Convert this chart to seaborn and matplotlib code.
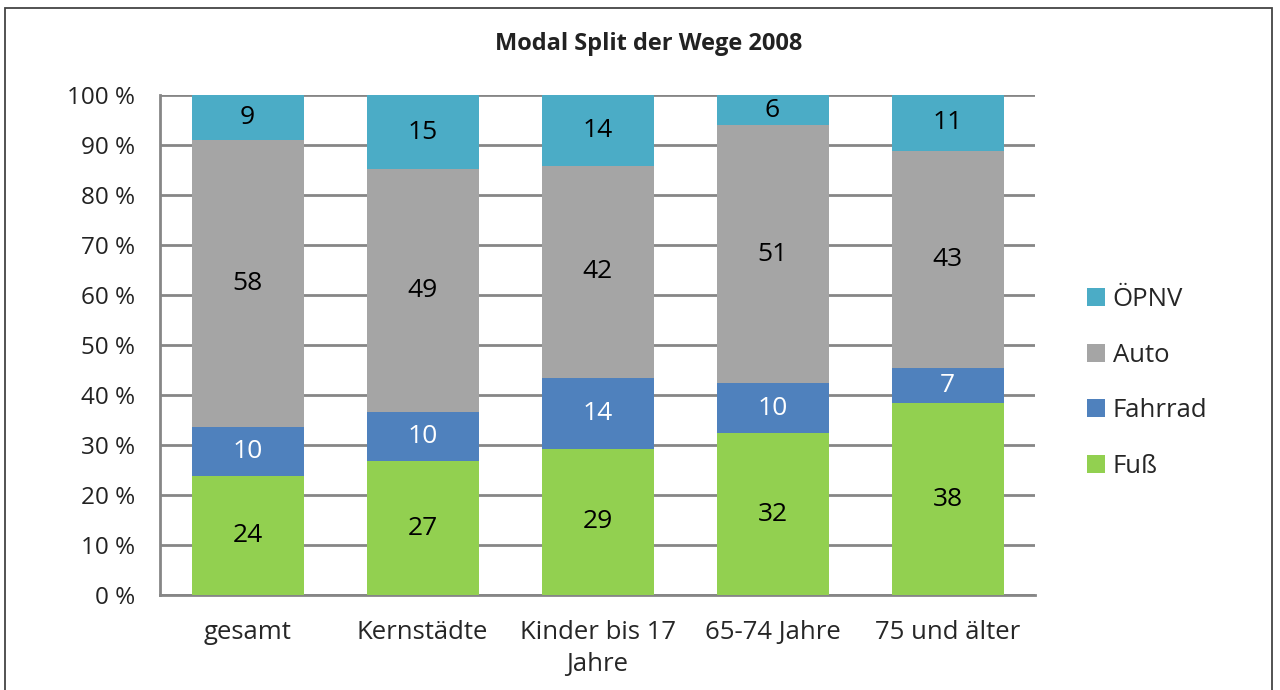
import numpy as np
import pandas as pd
import matplotlib
matplotlib.use("Agg")
import matplotlib.pyplot as plt
from matplotlib.patches import Rectangle
import seaborn as sns

# data (raw shares, bars are stacked to 100 %)
groups = ["gesamt", "Kernstädte", "Kinder bis 17\nJahre", "65-74 Jahre", "75 und älter"]
fuss = [24, 27, 29, 32, 38]
fahrrad = [10, 10, 14, 10, 7]
auto = [58, 49, 42, 51, 43]
oepnv = [9, 15, 14, 6, 11]

modes = ["Fuß", "Fahrrad", "Auto", "ÖPNV"]
colors = {"Fuß": "#92D050", "Fahrrad": "#4F81BD", "Auto": "#A5A5A5", "ÖPNV": "#4BACC6"}
label_colors = {"Fuß": "black", "Fahrrad": "white", "Auto": "black", "ÖPNV": "black"}

df = pd.DataFrame({"Fuß": fuss, "Fahrrad": fahrrad, "Auto": auto, "ÖPNV": oepnv}, index=groups)
share = df.div(df.sum(axis=1), axis=0) * 100

sns.set_style("white")
plt.rcParams["font.family"] = ["Open Sans", "DejaVu Sans"]

fig = plt.figure(figsize=(12.8, 6.9), dpi=100)
ax = fig.add_axes([0.125, 0.1377, 0.6836, 0.7246])

bottom = np.zeros(len(groups))
for m in modes:
    sns.barplot(x=groups, y=share[m].values, bottom=bottom, color=colors[m],
                width=0.64, ax=ax, label=m, saturation=1, linewidth=0, zorder=3)
    bottom = bottom + share[m].values

for cont, m in zip(ax.containers, modes):
    ax.bar_label(cont, labels=[str(v) for v in df[m]], label_type="center",
                 color=label_colors[m], fontsize=19)

ax.set_ylim(0, 100)
ax.set_xlim(-0.5, len(groups) - 0.5)
ax.set_yticks(range(0, 101, 10))
ax.set_yticklabels([f"{t} %" for t in range(0, 101, 10)], fontsize=17.5, color="#222222")
ax.tick_params(axis="x", labelsize=18.5, length=0, pad=18)
ax.tick_params(axis="y", length=0, pad=18)
for t in ax.get_xticklabels():
    t.set_linespacing(1.35)
ax.grid(axis="y", color="#868686", linewidth=2, zorder=0)
for s in ["top", "right"]:
    ax.spines[s].set_visible(False)
for s in ["left", "bottom"]:
    ax.spines[s].set_color("#868686")
    ax.spines[s].set_linewidth(2)

handles, labels = ax.get_legend_handles_labels()
ax.legend(handles[::-1], labels[::-1], loc="center left", bbox_to_anchor=(1.033, 0.424),
          frameon=False, fontsize=18.5, handlelength=0.7, handleheight=0.7,
          handletextpad=0.3, labelspacing=1.2)

fig.text(649 / 1280, 1 - 44 / 690, "Modal Split der Wege 2008", ha="center", va="center",
         fontsize=17, fontweight="bold", color="#222222")

fig.patches.append(Rectangle((5 / 1280, -0.05), 1267 / 1280, 1.05 - 8 / 690,
                             transform=fig.transFigure, fill=False,
                             edgecolor="#444444", linewidth=1.3))

fig.savefig("out.png", dpi=100)
